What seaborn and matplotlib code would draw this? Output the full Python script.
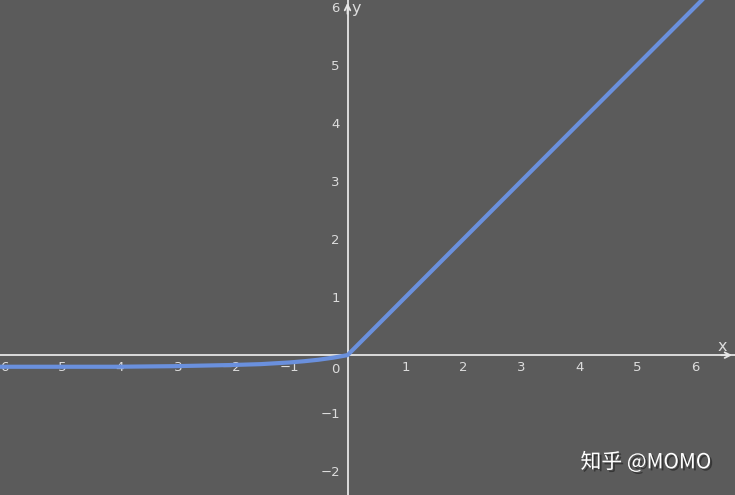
import matplotlib
matplotlib.use("Agg")
import matplotlib.pyplot as plt
import matplotlib.patheffects as pe
import seaborn as sns
import pandas as pd

# Data (ELU-like curve)
x_vals = [-6.0, -5.0, -4.0, -3.0, -2.5, -2.0, -1.5, -1.0, -0.75, -0.5, -0.25, 0.0, 6.7]
y_vals = [-0.20, -0.20, -0.20, -0.19, -0.18, -0.17, -0.155, -0.126, -0.105, -0.079, -0.044, 0.0, 6.7]
x_ticks = [-6, -5, -4, -3, -2, -1, 1, 2, 3, 4, 5, 6]
y_ticks = [-2, -1, 1, 2, 3, 4, 5, 6]
x_ticklabels = ["−6", "−5", "−4", "−3", "−2", "−1", "1", "2", "3", "4", "5", "6"]
y_ticklabels = ["−2", "−1", "1", "2", "3", "4", "5", "6"]

BG = "#5b5b5b"
AX = "#e6e6e6"
LINE = "#6a90dd"
TXT = "#dcdcdc"

sns.set_style("dark", {"axes.facecolor": BG, "figure.facecolor": BG})
plt.rcParams["font.family"] = ["DejaVu Sans", "Noto Sans CJK SC"]

fig = plt.figure(figsize=(7.35, 4.95), dpi=100)
ax = fig.add_axes([0, 0, 1, 1])
ax.set_facecolor(BG)

df = pd.DataFrame({"x": x_vals, "y": y_vals})
sns.lineplot(data=df, x="x", y="y", ax=ax, color=LINE, linewidth=3.0,
             solid_capstyle="round", zorder=3)

ax.set_xlim(-5.98, 6.69)
ax.set_ylim(-2.41, 6.12)

for s in ["top", "right"]:
    ax.spines[s].set_visible(False)
ax.spines["left"].set_position(("data", 0))
ax.spines["bottom"].set_position(("data", 0))
for s in ["left", "bottom"]:
    ax.spines[s].set_color(AX)
    ax.spines[s].set_linewidth(1.3)
    ax.spines[s].set_zorder(2)

ax.set_xticks(x_ticks)
ax.set_xticklabels(x_ticklabels)
ax.set_yticks(y_ticks)
ax.set_yticklabels(y_ticklabels)
ax.tick_params(axis="x", direction="inout", length=3, width=1, color=AX,
               labelcolor=TXT, labelsize=9.5, pad=3)
ax.tick_params(axis="y", direction="inout", length=3, width=1, color=AX,
               labelcolor=TXT, labelsize=9.5, pad=4)
ax.set_xlabel("")
ax.set_ylabel("")
ax.grid(False)

# origin label
ax.annotate("0", xy=(0, 0), xytext=(-6, -6), textcoords="offset points",
            ha="right", va="top", color=TXT, fontsize=9.5)

# axis arrows
ax.annotate("", xy=(1.0, 0), xycoords=ax.get_yaxis_transform(),
            xytext=(-12, 0), textcoords="offset points",
            arrowprops=dict(arrowstyle="->", color=AX, lw=1.3, mutation_scale=10))
ax.annotate("", xy=(0, 1.0), xycoords=ax.get_xaxis_transform(),
            xytext=(0, -12), textcoords="offset points",
            arrowprops=dict(arrowstyle="->", color=AX, lw=1.3, mutation_scale=10))

# axis names
ax.annotate("x", xy=(1.0, 0), xycoords=ax.get_yaxis_transform(),
            xytext=(-9, 1), textcoords="offset points",
            ha="center", va="bottom", color=TXT, fontsize=11.5)
ax.annotate("y", xy=(0, 1.0), xycoords=ax.get_xaxis_transform(),
            xytext=(6, -1), textcoords="offset points",
            ha="center", va="top", color=TXT, fontsize=11.5)

# watermark
fig.text(0.879, 0.066, "知乎 @MOMO", ha="center", va="center",
         fontsize=15, color="white", family=["Noto Sans CJK SC", "DejaVu Sans"],
         path_effects=[pe.withSimplePatchShadow(offset=(1.5, -1.5),
                                                shadow_rgbFace="#1e1e1e", alpha=0.6)])

fig.savefig("out.png", dpi=100, facecolor=BG)
